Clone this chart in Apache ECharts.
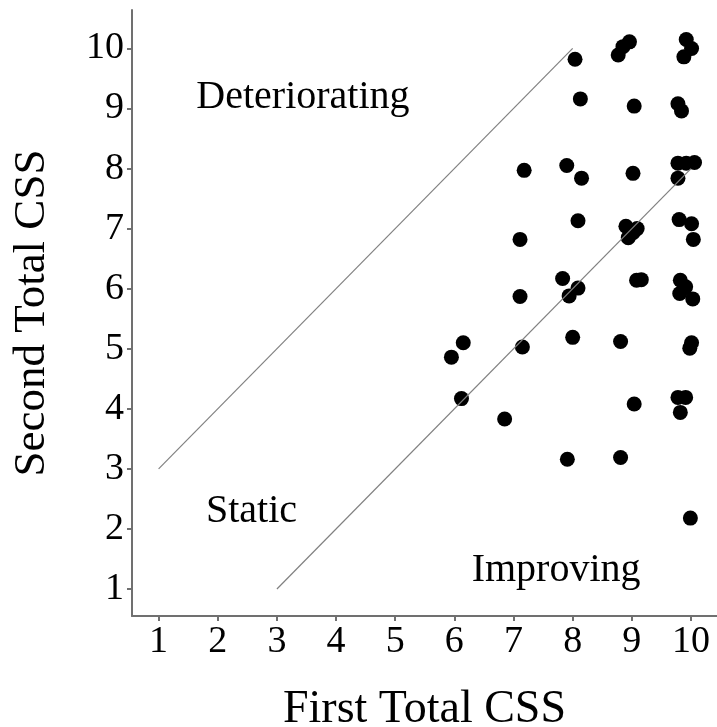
<!DOCTYPE html>
<html>
<head>
<meta charset="utf-8">
<script src="https://cdn.jsdelivr.net/npm/echarts@6/dist/echarts.min.js"></script>
<style>
html,body{margin:0;padding:0;background:#fff;}
#chart{width:717px;height:727px;}
</style>
</head>
<body>
<div id="chart"></div>
<script>
// Data
const firstCSS = [
  8.04, 8.77, 8.85, 8.96, 9.92, 10.01, 9.88,
  8.13, 9.04, 9.78, 9.84,
  7.18, 7.90, 8.15, 9.02, 9.78, 9.92, 10.06, 9.78,
  8.09, 7.11, 8.90, 9.09, 8.94, 9.02, 9.80, 10.01, 10.04,
  7.83, 8.09, 7.94, 7.11, 9.08, 9.16, 9.82, 9.91, 10.03, 9.81,
  6.15, 7.15, 8.00, 8.81, 10.01, 9.98, 5.95,
  6.12, 6.85, 9.04, 9.78, 9.91, 9.82,
  7.91, 8.81, 9.99
];
const secondCSS = [
  9.82, 9.89, 10.03, 10.11, 10.15, 10.00, 9.86,
  9.16, 9.04, 9.08, 8.96,
  7.97, 8.05, 7.84, 7.92, 8.09, 8.09, 8.10, 7.84,
  7.13, 6.82, 7.04, 7.00, 6.85, 6.93, 7.15, 7.08, 6.82,
  6.17, 6.01, 5.88, 5.87, 6.14, 6.15, 6.14, 6.03, 5.83, 5.92,
  5.10, 5.03, 5.19, 5.12, 5.10, 5.01, 4.86,
  4.17, 3.83, 4.08, 4.19, 4.19, 3.94,
  3.16, 3.19, 2.18
];
const upperLine = [[1, 3], [8, 10]];
const lowerLine = [[3, 1], [10, 8]];
const regionNames = ['Deteriorating', 'Static', 'Improving'];
const regionX = [3.44, 2.57, 7.72];
const regionY = [9.19, 2.29, 1.30];
const tickValues = [1, 2, 3, 4, 5, 6, 7, 8, 9, 10];

const points = firstCSS.map((x, i) => [x, secondCSS[i]]);
const regionData = regionNames.map((n, i) => ({ value: [regionX[i], regionY[i]], name: n }));

const FONT = 'Liberation Serif';
const axisColor = '#707070';

const chart = echarts.init(document.getElementById('chart'), null, { renderer: 'canvas' });
chart.setOption({
  animation: false,
  backgroundColor: '#fff',
  grid: { left: 132, right: 0, top: 10, bottom: 111, containLabel: false, outerBoundsMode: 'none' },
  xAxis: {
    type: 'value', min: 0.55, max: 10.44, interval: 1,
    name: 'First Total CSS', nameLocation: 'middle', nameGap: 71,
    nameTextStyle: { fontFamily: FONT, fontSize: 46, color: '#000' },
    axisLine: { show: true, onZero: false, lineStyle: { color: axisColor, width: 2 } },
    axisTick: { show: true, length: 5, lineStyle: { color: axisColor, width: 2 }, customValues: tickValues },
    axisLabel: { fontFamily: FONT, fontSize: 38, color: '#000', margin: 7, customValues: tickValues,
      formatter: v => String(v) },
    splitLine: { show: false }
  },
  yAxis: {
    type: 'value', min: 0.55, max: 10.64, interval: 1,
    name: 'Second Total CSS', nameLocation: 'middle', nameGap: 77, nameRotate: 90,
    nameTextStyle: { fontFamily: FONT, fontSize: 45, color: '#000' },
    axisLine: { show: true, onZero: false, lineStyle: { color: axisColor, width: 2 } },
    axisTick: { show: true, length: 5, lineStyle: { color: axisColor, width: 2 }, customValues: tickValues },
    axisLabel: { fontFamily: FONT, fontSize: 38, color: '#000', margin: 8, customValues: tickValues,
      formatter: v => String(v) },
    splitLine: { show: false }
  },
  series: [
    { type: 'line', data: upperLine, symbol: 'none', silent: true,
      lineStyle: { color: '#808080', width: 1.2 } },
    { type: 'line', data: lowerLine, symbol: 'none', silent: true,
      lineStyle: { color: '#808080', width: 1.2 } },
    { type: 'scatter', data: points, symbol: 'circle', symbolSize: 15,
      itemStyle: { color: '#000', opacity: 1 } },
    { type: 'scatter', data: regionData, symbolSize: 0, silent: true,
      itemStyle: { opacity: 1 },
      label: { show: true, position: 'inside', formatter: p => p.name,
        fontFamily: FONT, fontSize: 40, color: '#000', opacity: 1, align: 'center', verticalAlign: 'middle' } }
  ]
});
</script>
</body>
</html>
